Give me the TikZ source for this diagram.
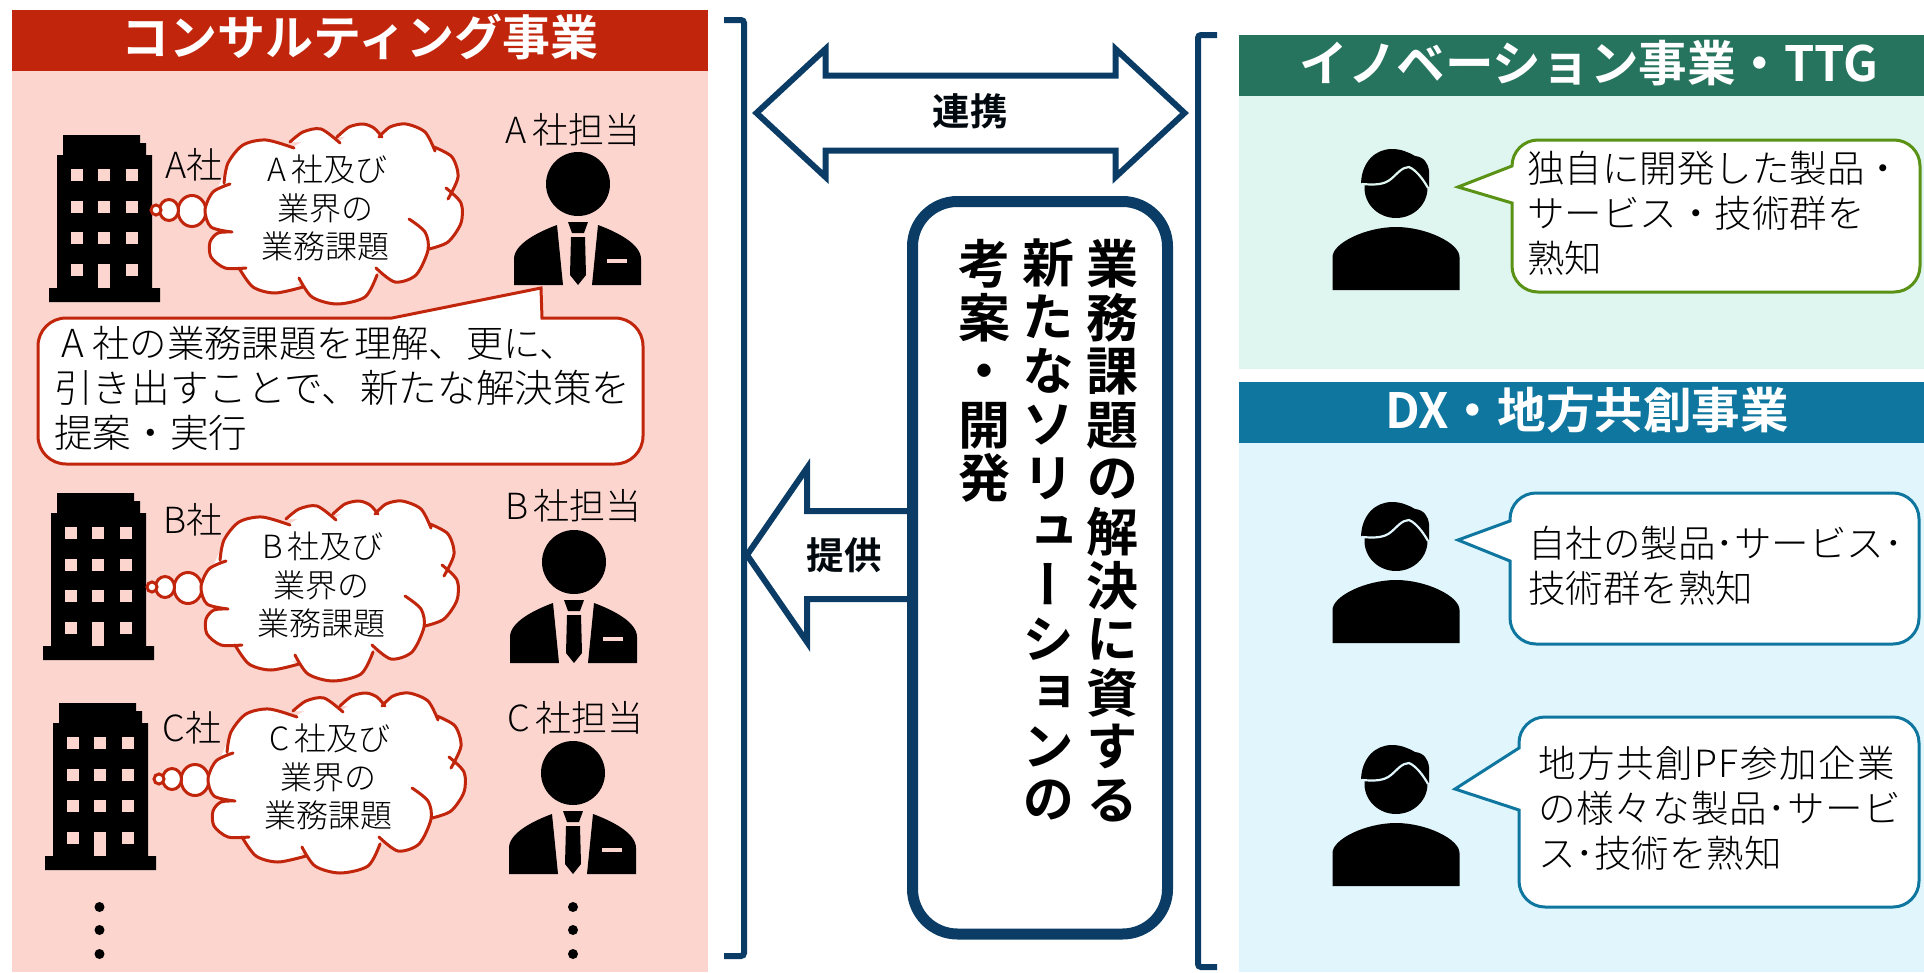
\documentclass[tikz,border=0pt]{standalone}
\usepackage{fontspec}
\newfontfamily\jp{Noto Sans CJK JP Light}
\newfontfamily\jpb{Noto Sans CJK JP Bold}
\newfontfamily\jpv[RawFeature={+vert}]{Noto Sans CJK JP Bold}
\definecolor{redh}{HTML}{C1260C}
\definecolor{redp}{HTML}{FCD5CF}
\definecolor{greenh}{HTML}{26735E}
\definecolor{greenp}{HTML}{DFF5EF}
\definecolor{blueh}{HTML}{0F779F}
\definecolor{bluep}{HTML}{E0F5FC}
\definecolor{navy}{HTML}{0A3C65}
\definecolor{olive}{HTML}{5A9216}
\tikzset{
  x=1pt,y=-1pt,
  headtext/.style={text=white,font=\jpb\fontsize{48.6}{48}\selectfont,inner sep=0pt},
  bodytext/.style={text=black,font=\jp\fontsize{37.5}{45}\selectfont,inner sep=0pt,align=left,anchor=west},
  calltext/.style={text=black,font=\jp\fontsize{38.6}{45}\selectfont,inner sep=0pt,align=left,anchor=west},
  cloudtext/.style={text=black,font=\jp\fontsize{32}{38.5}\selectfont,inner sep=0pt,align=center},
  labeltext/.style={text=black,font=\jp\fontsize{36}{36}\selectfont,inner sep=0pt},
  arrowtext/.style={text=black!85!navy,font=\jpb\fontsize{37.5}{37.5}\selectfont,inner sep=0pt},
  vtext/.style={text=black,font=\jpv\fontsize{52}{53.6}\selectfont,inner sep=0pt,align=center,anchor=north},
  cloudline/.style={draw=redh,line width=3pt,line cap=round},
  navyline/.style={draw=navy,line width=6pt,line join=miter},
  bubble/.style={line width=3pt,line join=miter,fill=white},
}
\newcommand{\fwA}[1]{\makebox[34pt]{#1}}
\newcommand{\buildingAt}[2]{%
\begin{scope}[shift={(#1,#2)}]
  \fill[black] (14,8) -- (14,0)--(91,0)--(91,8)--(97,8)--(97,20)--(103,20)--(103,153)--(111,153)--(111,167)--(0,167)--(0,153)--(8,153)--(8,20)--(14,20)--cycle;
  \foreach \cx in {22,49,77}{\foreach \cy in {34,66,97}{\fill[redp] (\cx,\cy) rectangle ++(12,12);}}
  \fill[redp] (22,129) rectangle ++(12,12);
  \fill[redp] (77,129) rectangle ++(12,12);
  \fill[redp] (49,129) rectangle ++(12,24);
\end{scope}}
\newcommand{\managerAt}[2]{%
\begin{scope}[shift={(#1,#2)}]
  \fill[black] (0,0) ellipse [x radius=32,y radius=32];
  \fill[black] (-21,41) -- (-15,101) -- (-64,101) -- (-64,75) .. controls (-64,60) and (-40,48) .. cycle;
  \fill[black] (20,41) -- (14,101) -- (63,101) -- (63,75) .. controls (63,60) and (39,48) .. cycle;
  \fill[black] (-10,38) -- (10,38) -- (6,49) -- (-6,49) -- cycle;
  \fill[black] (-7,53) -- (7,53) -- (8,91) -- (0,101) -- (-8,91) -- cycle;
  \fill[redp] (29,75) rectangle (49,79);
\end{scope}}
\newcommand{\personAt}[2]{%
\begin{scope}[shift={(1396,#1)}]
  \fill[black] (0,39) ellipse [x radius=31.5,y radius=30];
  \fill[black] (-35,34) .. controls (-34,12) and (-20,0) .. (-4,0) .. controls (5,0) and (12,3) .. (19,7) .. controls (28,8) and (32,14) .. (33,22) -- (33,38) -- (0,40) -- cycle;
  \draw[#2,line width=2.2pt] (-34,35) .. controls (-22,36) and (-12,36) .. (-5,30) .. controls (1,25) and (6,18) .. (13,18) .. controls (20,21) and (27,30) .. (32,39);
  \fill[black] (-63.5,141) -- (-63.5,108) .. controls (-63.5,94) and (-30,78) .. (0,78) .. controls (30,78) and (63.5,94) .. (63.5,108) -- (63.5,141) -- cycle;
\end{scope}}
\newcommand{\bumps}[1]{%
\path[#1]
 plot[smooth] coordinates {(232,232)(211,227)(205,210)(213,192)(230,184)}
 plot[smooth] coordinates {(224,183)(228,163)(243,145)(266,140)(294,148)}
 plot[smooth] coordinates {(290,142)(303,132)(321,129)(340,143)}
 plot[smooth] coordinates {(337,137)(349,127)(363,124)(374,128)(382,137)}
 plot[smooth] coordinates {(379,137)(390,127)(406,124)(425,132)(435,151)}
 plot[smooth] coordinates {(434,147)(452,157)(458,177)(448,199)}
 plot[smooth] coordinates {(446,188)(461,203)(461,223)(448,242)(429,249)}
 plot[smooth] coordinates {(409,219)(425,232)(428,250)(416,275)(395,282)(376,268)}
 plot[smooth] coordinates {(377,275)(365,297)(337,304)(312,297)(299,278)}
 plot[smooth] coordinates {(303,287)(275,293)(253,287)(239,268)}
 plot[smooth] coordinates {(246,268)(225,268)(211,257)(210,242)(218,233)(232,232)};}
\newcommand{\cloudAt}[2]{%
\begin{scope}[shift={(#1,#2)}]
  \foreach \ex/\ey/\rx/\ry in {192/211/14/15.5,169/210/9.5/10.5,156/210/5/5}{
    \draw[cloudline,fill=white] (\ex,\ey) ellipse [x radius=\rx,y radius=\ry];}
  \fill[white] (208,210) -- (228,165) -- (266,142) -- (293,147) -- (321,131) -- (339,141) -- (363,126) -- (381,138) -- (406,126) -- (434,150) -- (452,160) -- (455,180) -- (447,195) -- (458,205) -- (458,222) -- (445,241) -- (427,249) -- (416,275) -- (395,280) -- (377,272) -- (365,295) -- (337,302) -- (312,295) -- (301,283) -- (275,291) -- (253,285) -- (241,269) -- (225,266) -- (212,255) -- (212,242) -- (220,234) -- (231,232) -- (211,225) -- cycle;
  \bumps{fill=white}
  \bumps{cloudline}
\end{scope}}
\begin{document}
\begin{tikzpicture}
\useasboundingbox (0,0) rectangle (1924,972);
\fill[white] (0,0) rectangle (1924,972);
% panels
\fill[redp] (12,71) rectangle (708,972);
\fill[redh] (12,10) rectangle (708,71);
\node[headtext,font=\jpb\fontsize{48}{48}\selectfont] (hcons) at (360,37) {コンサルティング事業};
\fill[greenp] (1239,96) rectangle (1924,369);
\fill[greenh] (1239,35) rectangle (1924,96);
\node[headtext] (hinno) at (1589,63) {イノベーション事業・TTG};
\fill[bluep] (1239,443) rectangle (1924,972);
\fill[blueh] (1239,382) rectangle (1924,443);
\node[headtext] (hdx) at (1587,410) {DX・地方共創事業};
% buildings, managers, clouds
\buildingAt{49}{135}\buildingAt{43}{493}\buildingAt{45}{703}
\managerAt{578}{184}\managerAt{574}{562}\managerAt{573}{773}
\cloudAt{0}{0}\cloudAt{-4}{377}\cloudAt{3}{569}
\node[labeltext] (la) at (194,165) {A社};
\node[labeltext] (lb) at (193,520) {B社};
\node[labeltext] (lc) at (192,728) {C社};
\node[labeltext] (ma) at (570,130) {\fwA{A}社担当};
\node[labeltext] (mb) at (571,506) {\fwA{B}社担当};
\node[labeltext] (mc) at (573,718) {\fwA{C}社担当};
\node[cloudtext] (ca) at (325,208) {\makebox[30pt]{A}社及び\\業界の\\業務課題};
\node[cloudtext] (cb) at (321,585) {\makebox[30pt]{B}社及び\\業界の\\業務課題};
\node[cloudtext] (cc) at (328,777) {\makebox[30pt]{C}社及び\\業界の\\業務課題};
% A callout
\draw[redh,bubble] (66,318) -- (392,318) -- (541,288) -- (542,318) -- (615,318) arc[start angle=-90,end angle=0,radius=28] -- (643,436) arc[start angle=0,end angle=90,radius=28] -- (66,464) arc[start angle=90,end angle=180,radius=28] -- (38,346) arc[start angle=180,end angle=270,radius=28] -- cycle;
\node[calltext] (ctext) at (54,388) {\makebox[38pt]{A}{\fontsize{37.4}{45}\selectfont 社の業務課題を理解、更に、}\\引き出すことで、新たな解決策を\\提案・実行};
% dots
\foreach \dx in {99.5,573}{\foreach \dy in {907,930,954}{\fill[black] (\dx,\dy) circle (5);}}
% brackets
\draw[navyline,rounded corners=3pt] (724,20) -- (744,20) -- (744,956) -- (724,956);
\draw[navyline,rounded corners=3pt] (1217,35) -- (1198,35) -- (1198,967) -- (1217,967);
% double arrow
\draw[navyline,fill=white] (756.5,113) -- (825.5,49) -- (825.5,75.5) -- (1115.5,75.5) -- (1115.5,49) -- (1184.5,113) -- (1115.5,177) -- (1115.5,150.5) -- (825.5,150.5) -- (825.5,177) -- cycle;
\node[arrowtext] (renkei) at (970,111) {連携};
% left arrow
\draw[navyline,fill=white] (747,555) -- (807,468) -- (807,511) -- (912,511) -- (912,599) -- (807,599) -- (807,642) -- cycle;
\node[arrowtext] (teikyo) at (844,555) {提供};
% central box
\draw[navy,line width=11pt,fill=white,rounded corners=45pt] (912.5,201.5) rectangle (1167.5,934);
\node[vtext] (v1) at (1112,239) {業\\務\\課\\題\\の\\解\\決\\に\\資\\す\\る};
\node[vtext] (v2) at (1048,239) {新\\た\\な\\ソ\\リ\\ュ\\ー\\シ\\ョ\\ン\\の};
\node[vtext] (v3) at (984,239) {考\\案\\・\\開\\発};
% persons
\personAt{149}{greenp}\personAt{502}{bluep}\personAt{745}{bluep}
% bubbles
\draw[olive,bubble] (1538,140) -- (1894,140) arc[start angle=-90,end angle=0,radius=26] -- (1920,266) arc[start angle=0,end angle=90,radius=26] -- (1538,292) arc[start angle=90,end angle=180,radius=26] -- (1512,203) -- (1458,187) -- (1512,166) arc[start angle=180,end angle=270,radius=26] -- cycle;
\node[bodytext] (t1) at (1527,213) {独自に開発した製品・\\サービス・技術群を\\熟知};
\draw[blueh,bubble] (1536,493) -- (1893,493) arc[start angle=-90,end angle=0,radius=26] -- (1919,618) arc[start angle=0,end angle=90,radius=26] -- (1536,644) arc[start angle=90,end angle=180,radius=26] -- (1510,561) -- (1458,540) -- (1510,521) -- (1510,519) arc[start angle=180,end angle=270,radius=26] -- cycle;
\node[bodytext] (t2) at (1528,566) {自社の製品･サービス･\\技術群を熟知};
\draw[blueh,bubble] (1545,717) -- (1893,717) arc[start angle=-90,end angle=0,radius=26] -- (1919,881) arc[start angle=0,end angle=90,radius=26] -- (1545,907) arc[start angle=90,end angle=180,radius=26] -- (1519,810) -- (1455,789) -- (1519,748) -- (1519,743) arc[start angle=180,end angle=270,radius=26] -- cycle;
\node[bodytext] (t3) at (1538,808) {{\addfontfeature{LetterSpace=4}地方共創PF参加企業}\\{\addfontfeature{LetterSpace=2}の様々な製品･サービ}\\ス･技術を熟知};
\end{tikzpicture}
\end{document}
